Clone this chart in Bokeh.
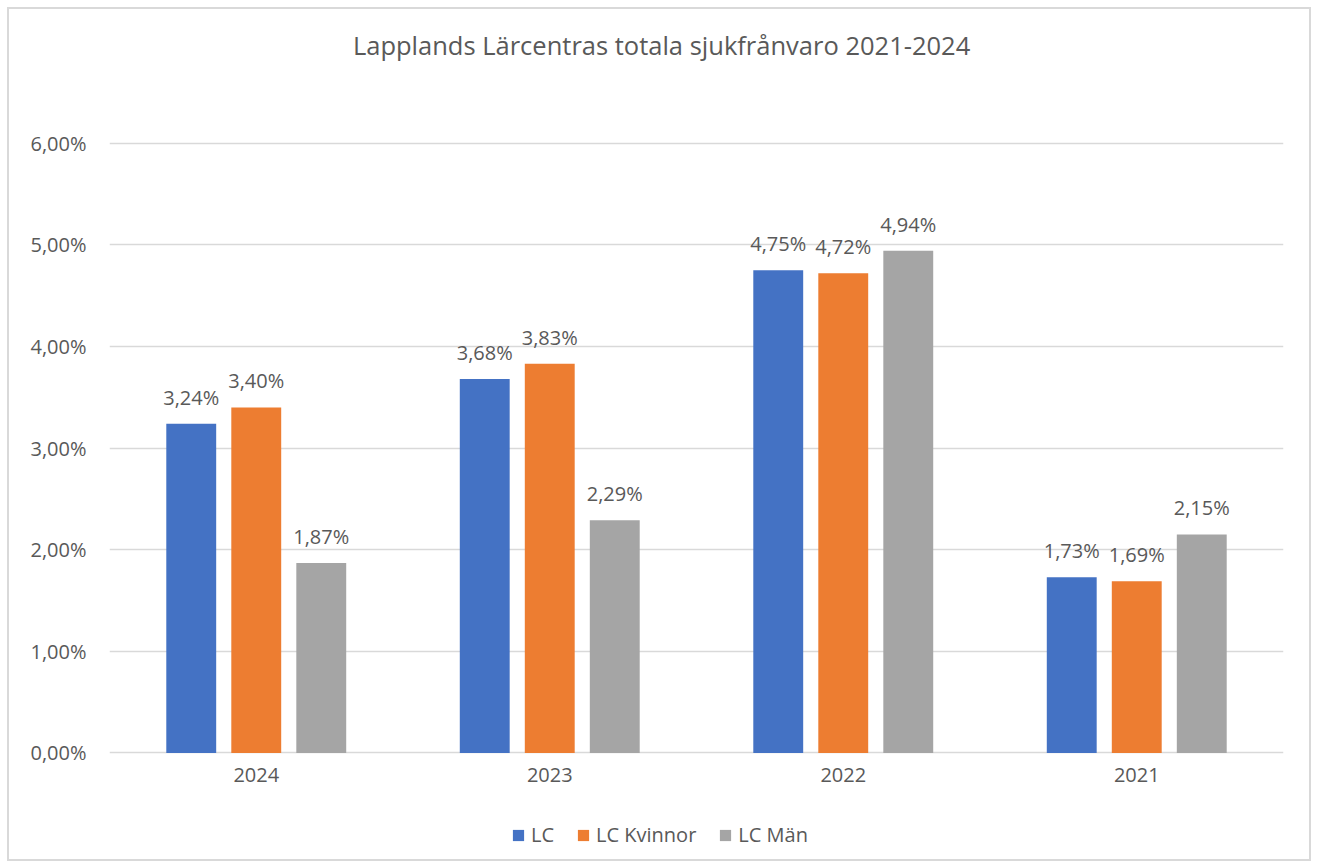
from bokeh.plotting import figure
from bokeh.models import (FactorRange, Range1d, ColumnDataSource, LabelSet, Label,
                          Legend, LegendItem)
from bokeh.core.properties import value
from bokeh.transform import dodge
from bokeh.embed import file_html
from bokeh.resources import INLINE

years = ["2024", "2023", "2022", "2021"]
lc = [3.24, 3.68, 4.75, 1.73]
lc_kvinnor = [3.40, 3.83, 4.72, 1.69]
lc_man = [1.87, 2.29, 4.94, 2.15]
series_names = ["LC", "LC Kvinnor", "LC Män"]
colors = ["#4472C4", "#ED7D31", "#A5A5A5"]
y_ticks = [0, 1, 2, 3, 4, 5, 6]
y_tick_labels = ["0,00%", "1,00%", "2,00%", "3,00%", "4,00%", "5,00%", "6,00%"]
title_text = "Lapplands Lärcentras totala sjukfrånvaro 2021-2024"

FONT = "Open Sans"
TXT = "#595959"

def fmt(v):
    return f"{v:.2f}".replace(".", ",") + "%"

src = ColumnDataSource(dict(
    year=years,
    lc=lc, lc_kvinnor=lc_kvinnor, lc_man=lc_man,
    lc_t=[fmt(v) for v in lc],
    lc_kvinnor_t=[fmt(v) for v in lc_kvinnor],
    lc_man_t=[fmt(v) for v in lc_man],
))

# frame spans the full canvas height; 6 units ~ 607 px
PX = 607 / 6.0
H = 850
y_top = 6 + 133 / PX
y_bot = y_top - H / PX

p = figure(width=1300, height=H, x_range=FactorRange(factors=years, range_padding=0),
           y_range=Range1d(y_bot, y_top), output_backend="svg", toolbar_location=None)
p.styles = {"border": "2px solid #d9d9d9", "box-sizing": "content-box",
            "margin-left": "7px", "margin-top": "7px"}
p.min_border_left = 100
p.min_border_right = 30
p.min_border_top = 0
p.min_border_bottom = 0
p.outline_line_color = None
p.background_fill_color = "white"
p.border_fill_color = "white"

title = Label(x=1.881, y=6 + 98 / PX, text=title_text, text_align="center",
              text_baseline="middle", text_font=FONT, text_font_size="25.5px",
              text_color=TXT)
p.add_layout(title)

offs = [-0.2215, 0.0, 0.2215]
cols = ["lc", "lc_kvinnor", "lc_man"]
renderers = []
for off, col, c in zip(offs, cols, colors):
    r = p.vbar(x=dodge("year", off, range=p.x_range), top=col, width=0.17,
               source=src, fill_color=c, line_color=None)
    renderers.append(r)
    lbl = LabelSet(x=dodge("year", off, range=p.x_range), y=col, text=col + "_t",
                   source=src, text_align="center", text_baseline="alphabetic",
                   y_offset=19, text_font=value(FONT), text_font_size=value("20px"),
                   text_color=TXT)
    p.add_layout(lbl)

p.ygrid.grid_line_color = "#d9d9d9"
p.ygrid.grid_line_width = 1.5
p.xgrid.grid_line_color = None

p.yaxis.ticker = y_ticks
p.yaxis.major_label_overrides = {t: l for t, l in zip(y_ticks, y_tick_labels)}
p.yaxis.axis_line_color = None
p.yaxis.major_tick_line_color = None
p.yaxis.minor_tick_line_color = None
p.yaxis.major_tick_out = 0
p.yaxis.major_label_standoff = 23
p.yaxis.major_label_text_font = FONT
p.yaxis.major_label_text_font_size = "20px"
p.yaxis.major_label_text_color = TXT

p.xaxis.fixed_location = 0
p.xaxis.axis_line_color = None
p.xaxis.major_tick_line_color = None
p.xaxis.major_tick_out = 0
p.xaxis.major_tick_in = 0
p.xaxis.major_label_standoff = 15
p.xaxis.major_label_text_font = FONT
p.xaxis.major_label_text_font_size = "20px"
p.xaxis.major_label_text_color = TXT

legend = Legend(items=[LegendItem(label=n, renderers=[r]) for n, r in zip(series_names, renderers)],
                orientation="horizontal", location=(402, 15),
                glyph_width=14, glyph_height=14, label_standoff=6, spacing=22,
                padding=0, margin=0, border_line_color=None, background_fill_alpha=0,
                label_text_font=FONT, label_text_font_size="20px", label_text_color=TXT)
p.add_layout(legend)

open("out.html", "w").write(file_html(p, INLINE))
